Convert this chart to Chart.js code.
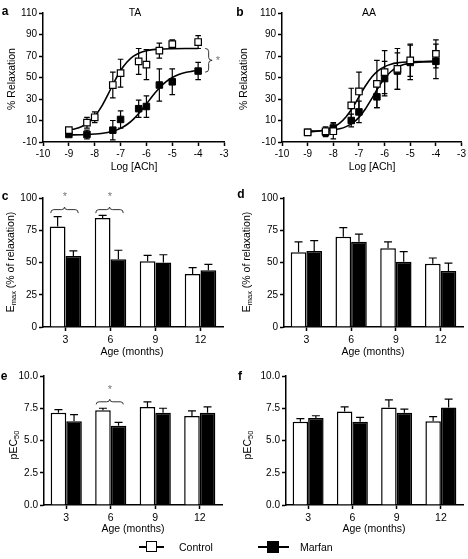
<!DOCTYPE html>
<html><head><meta charset="utf-8">
<script src="https://cdn.jsdelivr.net/npm/chart.js@4/dist/chart.umd.min.js"></script>
<style>
html,body{margin:0;padding:0;background:#fff;}
#wrap{position:relative;width:468px;height:559px;overflow:hidden;background:#fff;}
canvas{position:absolute;left:0;top:0;}
.t{position:absolute;font-family:"Liberation Sans",Arial,Helvetica,sans-serif;color:#000;white-space:nowrap;transform:translate(-50%,-50%);font-size:10.5px;line-height:1;}
.r{transform:translate(-50%,-50%) rotate(-90deg);}
.L{font-weight:bold;font-size:12px;}
.s{color:#777;font-size:11px;}
.sub{font-size:7.5px;position:relative;top:2px;}
.lg{position:absolute;background:#000;}
</style></head><body><div id="wrap">
<canvas id="ca" width="468" height="559"></canvas>
<canvas id="cb" width="468" height="559"></canvas>
<canvas id="cc" width="468" height="559"></canvas>
<canvas id="cd" width="468" height="559"></canvas>
<canvas id="ce" width="468" height="559"></canvas>
<canvas id="cf" width="468" height="559"></canvas>

<div class="t L" style="left:5px;top:11px">a</div>
<div class="t L" style="left:240px;top:12px">b</div>
<div class="t L" style="left:5px;top:196px">c</div>
<div class="t L" style="left:241px;top:194px">d</div>
<div class="t L" style="left:4px;top:376px">e</div>
<div class="t L" style="left:240px;top:376px">f</div>

<div class="t" style="left:135px;top:12px">TA</div>
<div class="t" style="left:369px;top:12px">AA</div>

<div class="t" style="left:134px;top:166px">Log [ACh]</div>
<div class="t" style="left:372px;top:166px">Log [ACh]</div>
<div class="t" style="left:132px;top:351px">Age (months)</div>
<div class="t" style="left:373px;top:351px">Age (months)</div>
<div class="t" style="left:133px;top:528px">Age (months)</div>
<div class="t" style="left:374px;top:528px">Age (months)</div>

<div class="t r" style="left:11px;top:79px">% Relaxation</div>
<div class="t r" style="left:243px;top:79px">% Relaxation</div>
<div class="t r" style="left:10px;top:262px">E<span class="sub">max</span> (% of relaxation)</div>
<div class="t r" style="left:246px;top:262px">E<span class="sub">max</span> (% of relaxation)</div>
<div class="t r" style="left:13px;top:445px">pEC<span class="sub">50</span></div>
<div class="t r" style="left:247px;top:445px">pEC<span class="sub">50</span></div>

<div class="t s" style="left:218px;top:60px">*</div>
<div class="t s" style="left:65px;top:196px">*</div>
<div class="t s" style="left:110px;top:196px">*</div>
<div class="t s" style="left:110px;top:389px">*</div>

<div class="lg" style="left:139px;top:546px;width:25px;height:1.5px"></div>
<div class="lg" style="left:146px;top:541px;width:11px;height:11px;background:#fff;border:1.5px solid #000;box-sizing:border-box"></div>
<div class="t" style="left:179px;top:547px;transform:translate(0,-50%)">Control</div>
<div class="lg" style="left:258px;top:546px;width:31px;height:1.5px"></div>
<div class="lg" style="left:267px;top:541px;width:12px;height:12px"></div>
<div class="t" style="left:300px;top:547px;transform:translate(0,-50%)">Marfan</div>
</div>
<script>
// ---------- DATA ----------
const ageCats = ['3','6','9','12'];

// Panel a (TA) concentration-response
const aCtrlX = [-9,-8.3,-8,-7.3,-7,-6.3,-6,-5.5,-5,-4];
const aCtrlY = [1,8,13,43,54,65,62,75,81,83];
const aCtrlErr = [2,5,5,12,13,12,14,7,4,6];
const aMarX = [-9,-8.3,-7.3,-7,-6.3,-6,-5.5,-5,-4];
const aMarY = [-3,-3,1,11,21,23,43,46,56];
const aMarErr = [1,4,9,8,8,10,15,12,8];
const aFitCtrlX = [-9,-8.75,-8.5,-8.25,-8,-7.75,-7.5,-7.25,-7,-6.75,-6.5,-6.25,-6,-5.75,-5.5,-5,-4.5,-4];
const aFitCtrlY = [1.3,2.4,4.5,8.0,13.8,22.4,33.6,45.7,56.5,64.5,69.9,73.1,74.9,75.9,76.4,76.8,77,77];
const aFitMarX = [-9,-8.5,-8,-7.75,-7.5,-7.25,-7,-6.75,-6.5,-6.25,-6,-5.75,-5.5,-5.25,-5,-4.75,-4.5,-4.25,-4];
const aFitMarY = [-3.4,-3.2,-2.6,-2.1,-1.1,0.4,2.7,6.3,11.3,17.9,25.4,33.2,40.2,45.9,50.0,52.8,54.6,55.7,56.5];

// Panel b (AA) concentration-response
const bCtrlX = [-9,-8.3,-8,-7.3,-7,-6.3,-6,-5.5,-5,-4];
const bCtrlY = [-1,0,0,24,37,44,55,58,66,72];
const bCtrlErr = [1,4,7,16,18,22,20,19,15,13];
const bMarX = [-9,-8.3,-8,-7.3,-7,-6.3,-6,-5.5,-5,-4];
const bMarY = [-1,-1,3,10,18,32,49,56,64,65];
const bMarErr = [1,4,5,6,10,10,16,17,16,16];
const bFitCtrlX = [-9,-8.5,-8,-7.75,-7.5,-7.25,-7,-6.75,-6.5,-6.25,-6,-5.75,-5.5,-5,-4.5,-4];
const bFitCtrlY = [-0.6,0.4,3.9,7.6,13.5,21.9,32,42.1,50.5,56.4,60.1,62.4,63.6,64.6,64.9,65];
const bFitMarX = [-9,-8.5,-8,-7.75,-7.5,-7.25,-7,-6.75,-6.5,-6.25,-6,-5.75,-5.5,-5.25,-5,-4.5,-4];
const bFitMarY = [0.1,0.4,1.3,2.3,4.3,7.6,12.9,20.7,30.4,40.5,49.2,55.6,59.6,62.0,63.4,64.5,64.8];

// Panel c (TA Emax)
const cCtrl = [78, 84.5, 51, 41];
const cCtrlErr = [7.5, 2, 4.5, 5];
const cMar = [55, 52.5, 50, 44];
const cMarErr = [4, 7, 6, 4.5];
// Panel d (AA Emax)
const dCtrl = [58, 70, 61, 49];
const dCtrlErr = [8, 7, 5, 4.5];
const dMar = [59, 66, 50.5, 43.5];
const dMarErr = [8, 6, 8, 6];
// Panel e (TA pEC50)
const eCtrl = [7.15, 7.35, 7.6, 6.9];
const eCtrlErr = [0.25, 0.15, 0.4, 0.4];
const eMar = [6.5, 6.15, 7.15, 7.15];
const eMarErr = [0.5, 0.25, 0.35, 0.45];
// Panel f (AA pEC50)
const fCtrl = [6.45, 7.25, 7.55, 6.5];
const fCtrlErr = [0.25, 0.35, 0.6, 0.35];
const fMar = [6.75, 6.45, 7.15, 7.55];
const fMarErr = [0.17, 0.35, 0.28, 0.65];

// ---------- RENDERING ----------
const FONT = '"Liberation Sans", Arial, Helvetica, sans-serif';
const W = 468, H = 559;
const zip = (xs, ys) => xs.map((x, i) => ({x, y: ys[i]}));

const errPlugin = {
  id: 'err',
  beforeDatasetsDraw(chart, args, opts) { if (opts.mode === 'both') drawErr(chart, opts); },
  afterDatasetsDraw(chart, args, opts) { if (opts.mode === 'up') drawErr(chart, opts); }
};
function drawErr(chart, opts) {
  const ctx = chart.ctx, ys = chart.scales.y;
  ctx.save(); ctx.strokeStyle = '#000'; ctx.lineWidth = 1.2;
  chart.data.datasets.forEach((ds, i) => {
    if (!ds.errors) return;
    const meta = chart.getDatasetMeta(i);
    meta.data.forEach((el, j) => {
      const raw = ds.data[j]; const v = (typeof raw === 'object') ? raw.y : raw;
      const e = ds.errors[j];
      const yt = ys.getPixelForValue(v + e);
      const yb = opts.mode === 'both' ? ys.getPixelForValue(v - e) : el.y;
      const x = el.x, c = opts.cap;
      ctx.beginPath();
      ctx.moveTo(x, yb); ctx.lineTo(x, yt);
      ctx.moveTo(x - c, yt); ctx.lineTo(x + c, yt);
      if (opts.mode === 'both') { ctx.moveTo(x - c, yb); ctx.lineTo(x + c, yb); }
      ctx.stroke();
    });
  });
  ctx.restore();
}

const bracePlugin = {
  id: 'brace',
  afterDatasetsDraw(chart, args, opts) {
    const ctx = chart.ctx, ys = chart.scales.y, xs = chart.scales.x;
    ctx.save(); ctx.strokeStyle = '#333'; ctx.lineWidth = 1;
    (opts.items || []).forEach(it => {
      ctx.beginPath();
      if (it.kind === 'v') {
        const x0 = xs.getPixelForValue(it.x) + it.dx, w = it.w, xm = x0 + w / 2;
        const y1 = ys.getPixelForValue(it.y1), y2 = ys.getPixelForValue(it.y2), ym = (y1 + y2) / 2, r = 3;
        ctx.moveTo(x0, y1); ctx.quadraticCurveTo(xm, y1, xm, y1 + r);
        ctx.lineTo(xm, ym - r); ctx.quadraticCurveTo(xm, ym, x0 + w, ym);
        ctx.quadraticCurveTo(xm, ym, xm, ym + r); ctx.lineTo(xm, y2 - r);
        ctx.quadraticCurveTo(xm, y2, x0, y2);
      } else {
        const m0 = chart.getDatasetMeta(0).data[it.idx], m1 = chart.getDatasetMeta(1).data[it.idx];
        const xa = m0.x - m0.width / 2 + 1, xb = m1.x + m1.width / 2 - 3, xc = (xa + xb) / 2, r = 3;
        const yE = ys.getPixelForValue(it.yEnd), yM = ys.getPixelForValue(it.yMid), yT = ys.getPixelForValue(it.yTip);
        ctx.moveTo(xa, yE); ctx.quadraticCurveTo(xa, yM, xa + r, yM);
        ctx.lineTo(xc - r, yM); ctx.quadraticCurveTo(xc, yM, xc, yT);
        ctx.quadraticCurveTo(xc, yM, xc + r, yM); ctx.lineTo(xb - r, yM);
        ctx.quadraticCurveTo(xb, yM, xb, yE);
      }
      ctx.stroke();
    });
    ctx.restore();
  }
};

function axis(extra, ticksExtra, fit) {
  return Object.assign({
    border: {display: true, color: '#000', width: 1.5},
    grid: {display: true, drawOnChartArea: false, drawTicks: true, tickLength: 4, tickWidth: 1.5, tickColor: '#000', color: '#000', offset: false},
    ticks: Object.assign({color: '#000', font: {family: FONT, size: 10}, padding: 2, autoSkip: false, maxRotation: 0}, ticksExtra || {}),
    afterFit: fit
  }, extra);
}
function layout(A, yW, xH) {
  return {autoPadding: false, padding: {left: A.L - yW, top: A.T, right: W - A.R, bottom: H - A.B - xH}};
}

function lineChart(id, A, cx, cy, ce, mx, my, me, fcx, fcy, fmx, fmy, braces) {
  return new Chart(document.getElementById(id), {
    type: 'line',
    data: {datasets: [
      {data: zip(cx, cy), errors: ce, showLine: false, pointStyle: 'rect', pointRadius: 4.6, pointBackgroundColor: '#fff', pointBorderColor: '#000', pointBorderWidth: 1.2},
      {data: zip(mx, my), errors: me, showLine: false, pointStyle: 'rect', pointRadius: 4.6, pointBackgroundColor: '#000', pointBorderColor: '#000', pointBorderWidth: 1},
      {data: zip(fcx, fcy), borderColor: '#000', borderWidth: 1.6, pointRadius: 0, cubicInterpolationMode: 'monotone', fill: false},
      {data: zip(fmx, fmy), borderColor: '#000', borderWidth: 1.6, pointRadius: 0, cubicInterpolationMode: 'monotone', fill: false}
    ]},
    options: {
      responsive: false, animation: false, devicePixelRatio: 1, events: [],
      layout: layout(A, 40, 22),
      scales: {
        x: axis({type: 'linear', min: -10, max: -3}, {stepSize: 1, padding: 2}, s => { s.height = 22; }),
        y: axis({type: 'linear', min: -10, max: 110}, {stepSize: 20, padding: 2}, s => { s.width = 40; })
      },
      plugins: {legend: {display: false}, tooltip: {enabled: false}, err: {mode: 'both', cap: 2.8}, brace: {items: braces}}
    },
    plugins: [errPlugin, bracePlugin]
  });
}

function barChart(id, A, ctrl, ce, mar, me, yMax, yStep, dec, braces) {
  return new Chart(document.getElementById(id), {
    type: 'bar',
    data: {labels: ageCats, datasets: [
      {data: ctrl, errors: ce, backgroundColor: '#fff', borderColor: '#000', borderWidth: 1.5, categoryPercentage: 0.7, barPercentage: 1.0},
      {data: mar, errors: me, backgroundColor: '#000', borderColor: '#000', borderWidth: 1.5, categoryPercentage: 0.7, barPercentage: 1.0}
    ]},
    options: {
      responsive: false, animation: false, devicePixelRatio: 1, events: [],
      layout: layout(A, 40, 20),
      scales: {
        x: axis({type: 'category', offset: true}, {padding: 3, font: {family: FONT, size: 10.5}}, s => { s.height = 20; }),
        y: axis({type: 'linear', min: 0, max: yMax}, {stepSize: yStep, padding: 2, callback: v => v.toFixed(dec)}, s => { s.width = 40; })
      },
      plugins: {legend: {display: false}, tooltip: {enabled: false}, err: {mode: 'up', cap: 4}, brace: {items: braces}}
    },
    plugins: [errPlugin, bracePlugin]
  });
}

lineChart('ca', {L: 43, T: 13, R: 224, B: 142}, aCtrlX, aCtrlY, aCtrlErr, aMarX, aMarY, aMarErr,
  aFitCtrlX, aFitCtrlY, aFitMarX, aFitMarY,
  [{kind: 'v', x: -4, dx: 7, w: 7, y1: aFitCtrlY[aFitCtrlY.length - 1], y2: 55}]);
lineChart('cb', {L: 282, T: 13, R: 462, B: 142}, bCtrlX, bCtrlY, bCtrlErr, bMarX, bMarY, bMarErr,
  bFitCtrlX, bFitCtrlY, bFitMarX, bFitMarY, []);
barChart('cc', {L: 43, T: 198, R: 223, B: 327}, cCtrl, cCtrlErr, cMar, cMarErr, 100, 25, 0,
  [{kind: 'h', idx: 0, yEnd: 88.3, yMid: 91, yTip: 93}, {kind: 'h', idx: 1, yEnd: 88.3, yMid: 91, yTip: 93}]);
barChart('cd', {L: 284, T: 198, R: 463, B: 327}, dCtrl, dCtrlErr, dMar, dMarErr, 100, 25, 0, []);
barChart('ce', {L: 44, T: 376, R: 222, B: 505}, eCtrl, eCtrlErr, eMar, eMarErr, 10, 2.5, 1,
  [{kind: 'h', idx: 1, yEnd: 7.8, yMid: 8.0, yTip: 8.2}]);
barChart('cf', {L: 286, T: 376, R: 463, B: 505}, fCtrl, fCtrlErr, fMar, fMarErr, 10, 2.5, 1, []);
</script>
</body></html>
